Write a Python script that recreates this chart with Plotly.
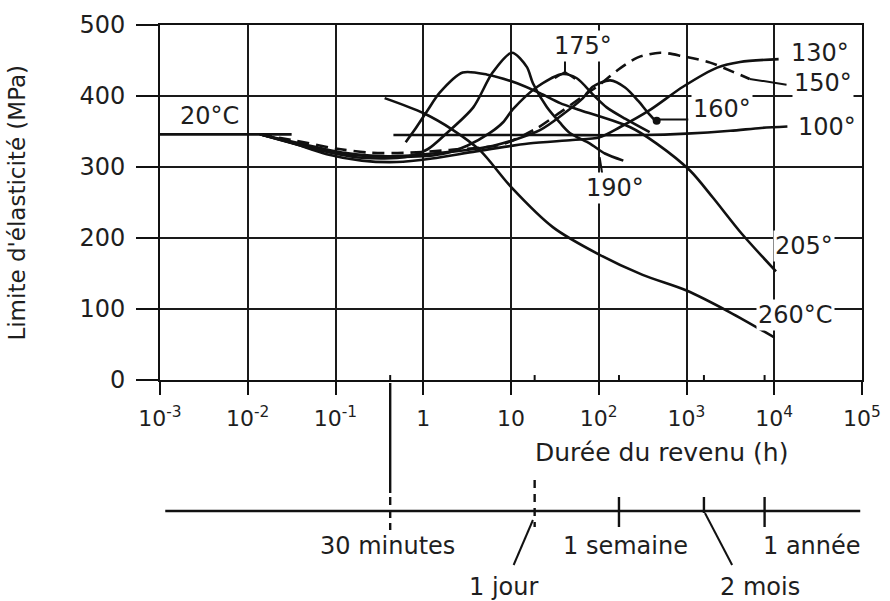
import plotly.graph_objects as go

# ---------------- data : log10(tempering time, h) and yield strength (MPa) ----------------
t_20 = [-3.0, -1.5]
s_20 = [346, 346]

t_100 = [-0.34, 0.5, 1.5, 2.5, 3.0, 3.5, 3.85, 4.15]
s_100 = [345, 345, 345, 345, 347, 351, 355, 357]

t_130 = [-1.86, -1.5, -1.1, -0.7, -0.3, 0.1, 0.6, 1.2, 1.7, 2.01, 2.24, 2.58, 2.96, 3.35, 3.61, 4.05]
s_130 = [346, 334, 318, 309, 307, 312, 322, 333, 338, 342, 356, 380, 413, 440, 448, 452]

t_150 = [-1.86, -1.45, -1.0, -0.6, -0.2, 0.3, 0.9, 1.3, 1.56, 1.79, 2.01, 2.21, 2.44, 2.70, 2.96, 3.27, 3.53, 3.72]
s_150 = [346, 337, 326, 320, 320, 324, 332, 355, 377, 397, 416, 436, 454, 461, 456, 447, 434, 424]

t_160 = [-1.86, -1.4, -0.9, -0.4, 0.2, 0.8, 1.33, 1.6, 1.82, 1.93, 2.13, 2.3, 2.45, 2.55, 2.66]
s_160 = [346, 333, 320, 315, 320, 330, 352, 375, 397, 413, 422, 412, 393, 378, 363]

t_175 = [-1.86, -1.3, -0.8, -0.3, 0.2, 0.5, 0.76, 0.91, 1.02, 1.3, 1.59, 1.75, 1.95, 2.09, 2.3, 2.58]
s_175 = [346, 328, 317, 314, 318, 330, 348, 363, 381, 413, 431, 425, 400, 384, 368, 349]

t_190 = [-1.86, -1.2, -0.7, -0.2, 0.05, 0.27, 0.57, 0.79, 1.01, 1.18, 1.25, 1.41, 1.56, 1.67, 1.90, 2.07, 2.28]
s_190 = [346, 324, 313, 314, 325, 348, 384, 433, 461, 441, 418, 384, 362, 348, 333, 319, 309]

t_205 = [-0.2, -0.1, 0.05, 0.19, 0.45, 0.73, 1.07, 1.33, 1.56, 1.79, 2.36, 2.66, 3.04, 3.30, 3.63, 4.02]
s_205 = [335, 352, 380, 405, 433, 430, 418, 404, 390, 380, 356, 333, 295, 257, 206, 153]

t_260 = [-0.44, 0.0, 0.34, 0.65, 1.0, 1.48, 2.0, 2.5, 3.0, 3.5, 4.0]
s_260 = [397, 376, 352, 323, 272, 215, 177, 148, 126, 95, 60]

x_tick_vals = [1e-3, 1e-2, 1e-1, 1, 10, 1e2, 1e3, 1e4, 1e5]
x_tick_text = ["10<sup>-3</sup>", "10<sup>-2</sup>", "10<sup>-1</sup>", "1", "10",
               "10<sup>2</sup>", "10<sup>3</sup>", "10<sup>4</sup>", "10<sup>5</sup>"]
y_tick_vals = [0, 100, 200, 300, 400, 500]

# time-scale marks (hours, as placed on the picture)
time_mark_h = [0.42, 18.6, 170, 1580, 7760]
time_mark_lbl = ["30 minutes", "1 jour", "1 semaine", "2 mois", "1 année"]

# ---------------------------------------------------------------------------------------
FONT = "DejaVu Sans"
INK = "#111111"
TXT = "#1e1e1e"
W, H = 890, 601
T_MARGIN = 25
PLOT_BOTTOM_PX = 380
dom_bottom = (H - PLOT_BOTTOM_PX) / (H - T_MARGIN)
X_LOG_MIN, X_LOG_MAX = -3, 5


def hx(logs):
    return [10 ** v for v in logs]


def px_frac(logv):
    return (logv - X_LOG_MIN) / (X_LOG_MAX - X_LOG_MIN)


fig = go.Figure()
curve_line = dict(color=INK, width=2.6, shape="spline", smoothing=0.8)

for t, s, dash in [(t_20, s_20, "solid"), (t_100, s_100, "solid"), (t_130, s_130, "solid"),
                   (t_150, s_150, "12px,7px"), (t_160, s_160, "solid"), (t_175, s_175, "solid"),
                   (t_190, s_190, "solid"), (t_205, s_205, "solid"), (t_260, s_260, "solid")]:
    fig.add_trace(go.Scatter(x=hx(t), y=s, mode="lines",
                             line=dict(curve_line, dash=dash),
                             showlegend=False, hoverinfo="skip", xaxis="x", yaxis="y"))

# label leaders inside the plot
thin = dict(color=INK, width=2)
leaders = [
    ([3.72, 4.14], [424, 416]),      # 150
    ([2.66, 3.02], [367, 367]),      # 160
    ([1.615, 1.615], [455, 433]),    # 175
    ([2.04, 2.01], [290, 314]),      # 190
]
for lt, ls in leaders:
    fig.add_trace(go.Scatter(x=hx(lt), y=ls, mode="lines", line=thin,
                             showlegend=False, hoverinfo="skip"))
# 175 fork
fig.add_trace(go.Scatter(x=hx([1.50, 1.615, 1.73]), y=[425, 434, 424], mode="lines", line=thin,
                         showlegend=False, hoverinfo="skip"))
# 160 end dot
fig.add_trace(go.Scatter(x=hx([2.66]), y=[365], mode="markers",
                         marker=dict(color=INK, size=8), showlegend=False, hoverinfo="skip"))

# small ticks above the time axis at time marks
tx, ty = [], []
for h in time_mark_h:
    tx += [h, h, None]
    ty += [0, 7, None]
fig.add_trace(go.Scatter(x=tx, y=ty, mode="lines", line=thin, showlegend=False, hoverinfo="skip"))

# ---------------- lower time scale (second, invisible subplot) ----------------
def seg(x0, x1, y0, y1, dash="solid", width=2):
    fig.add_trace(go.Scatter(x=[x0, x1], y=[y0, y1], mode="lines",
                             line=dict(color=INK, width=width, dash=dash),
                             showlegend=False, hoverinfo="skip", xaxis="x2", yaxis="y2"))

seg(10 ** -2.94, 10 ** 4.98, 90, 90, width=2.4)
seg(time_mark_h[0], time_mark_h[0], 218, 108, width=2.4)
seg(time_mark_h[0], time_mark_h[0], 104, 71, dash="8px,5px", width=2.4)
seg(time_mark_h[1], time_mark_h[1], 121, 74, dash="8px,6px", width=2.4)
seg(time_mark_h[2], time_mark_h[2], 104, 74, width=2.4)
seg(time_mark_h[3], time_mark_h[3], 104, 88, width=2.4)
seg(time_mark_h[4], time_mark_h[4], 104, 74, width=2.4)
seg(10 ** 1.25, 10 ** 1.03, 81, 36)
seg(10 ** 3.21, 10 ** 3.52, 88, 36)

annotations = []


def lab(text, x, y, xref="x", yref="y", size=24, xanchor="left", bg="white", **kw):
    annotations.append(dict(text=text, x=x, y=y, xref=xref, yref=yref, showarrow=False,
                            xanchor=xanchor, yanchor="middle", bgcolor=bg, borderpad=1,
                            font=dict(family=FONT, size=size, color=TXT), **kw))


# curve labels (x in log10 units)
lab("20°C", -2.80, 372)
lab("175°", 1.47, 471)
lab("130°", 4.17, 461)
lab("150°", 4.20, 418)
lab("160°", 3.05, 382)
lab("100°", 4.25, 356)
lab("190°", 1.83, 270)
lab("205°", 3.98, 189)
lab("260°C", 3.79, 92)

# time-scale labels
lab(time_mark_lbl[0], -0.41, 55, xref="x2", yref="y2", xanchor="center")
lab(time_mark_lbl[2], 2.31, 55, xref="x2", yref="y2", xanchor="center")
lab(time_mark_lbl[4], 4.43, 55, xref="x2", yref="y2", xanchor="center")
lab(time_mark_lbl[1], 0.91, 14, xref="x2", yref="y2", xanchor="center")
lab(time_mark_lbl[3], 3.84, 14, xref="x2", yref="y2", xanchor="center")

# axis titles
lab("Durée du revenu (h)", 2.72, 149, xref="x2", yref="y2", xanchor="center", size=25, bg=None)
lab("Limite d'élasticité (MPa)", -0.205, 250, xref="paper", yref="y", xanchor="center",
    size=23, bg=None, textangle=-90)

# breaks in the grid around the labels (white strips drawn between grid and curves)
gaps = [
    (px_frac(3.985), px_frac(4.015), 401, 500),   # 10^4 vertical above 400
    (px_frac(2.62), px_frac(3.92), 396, 404),     # 400 line
    (px_frac(1.62), px_frac(2.62), 296, 304),     # 300 line
    (px_frac(1.985), px_frac(2.015), 232, 300),   # 10^2 vertical near 190 label
    (px_frac(3.62), px_frac(3.85), 96, 104),      # 100 line before 260 label
    (px_frac(3.985), px_frac(4.015), 160, 205),   # 10^4 vertical near 205 label
    (px_frac(3.985), px_frac(4.015), 66, 118),    # 10^4 vertical near 260 label
]
shapes = [dict(type="rect", xref="paper", yref="y", x0=a, x1=b, y0=c, y1=d,
               fillcolor="white", line=dict(width=0), layer="between") for a, b, c, d in gaps]

axis_common = dict(showline=True, linecolor=INK, linewidth=2, mirror=True,
                   showgrid=True, gridcolor="#1a1a1a", gridwidth=2, zeroline=False,
                   ticks="outside", tickcolor=INK, tickwidth=2, automargin=False)

fig.update_layout(
    template="none",
    width=W, height=H,
    margin=dict(l=160, r=28, t=T_MARGIN, b=0, pad=0),
    paper_bgcolor="white", plot_bgcolor="white",
    showlegend=False,
    xaxis=dict(type="log", range=[X_LOG_MIN, X_LOG_MAX], domain=[0, 1], anchor="y",
               tickvals=x_tick_vals, ticktext=x_tick_text, ticklen=13, ticklabelstandoff=5,
               tickfont=dict(family=FONT, size=22, color=TXT), **axis_common),
    yaxis=dict(range=[0, 500], domain=[dom_bottom, 1], anchor="x",
               tickvals=y_tick_vals, ticklen=22, ticklabelstandoff=6,
               tickfont=dict(family=FONT, size=24, color=TXT), **axis_common),
    xaxis2=dict(type="log", range=[X_LOG_MIN, X_LOG_MAX], domain=[0, 1], anchor="y2", visible=False),
    yaxis2=dict(range=[0, H - PLOT_BOTTOM_PX], domain=[0, dom_bottom], anchor="x2", visible=False),
    annotations=annotations,
    shapes=shapes,
)

fig.write_html("out.html", config={"displayModeBar": False},
               post_script="document.body.style.margin='0';document.body.style.padding='0';")
